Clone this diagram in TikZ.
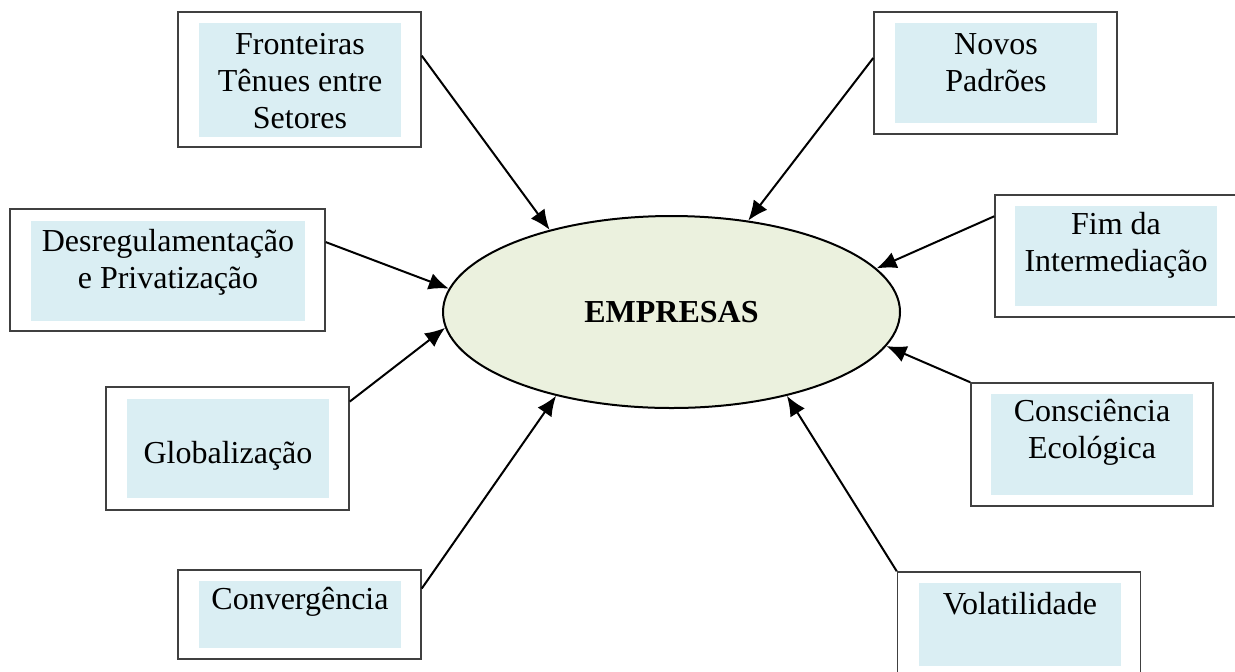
\documentclass[tikz,border=0pt]{standalone}
\usepackage{fontspec}
\setmainfont{Liberation Serif}
\usetikzlibrary{shapes.geometric,arrows.meta}
\definecolor{caixa}{RGB}{218,238,243}
\definecolor{oval}{RGB}{235,241,222}
\definecolor{borda}{RGB}{64,64,64}
\tikzset{
  outer/.style={draw=borda, line width=0.75pt, fill=white, inner sep=0pt},
  rotulo/.style={align=center, inner sep=0pt, font=\fontsize{16}{18.5}\selectfont},
  seta/.style={-{Latex[length=10pt,width=8.5pt]}, line width=1pt}
}

\begin{document}
\begin{tikzpicture}[x=0.5pt,y=-0.5pt]
        \useasboundingbox (0,0) rectangle (1235,671);
        \clip (0,0) rectangle (1235,671);

        % caixas da esquerda
        \node[outer, minimum width=121.5pt, minimum height=67.5pt] (fronteiras) at (299.5,79.5) {};
        \fill[caixa] (199,23) rectangle (401,137);
        \node[rotulo] (tfronteiras) at (300,81) {Fronteiras\\Tênues entre\\Setores};

        \node[outer, minimum width=157.5pt, minimum height=61pt] (desreg) at (167.5,270) {};
        \fill[caixa] (31,221) rectangle (305,321);
        \node[rotulo] (tdesreg) at (168,262) {Desregulamentação\\e Privatização};

        \node[outer, minimum width=121.5pt, minimum height=61.5pt] (global) at (227.5,448.5) {};
        \fill[caixa] (127,399) rectangle (329,498);
        \node[rotulo] (tglobal) at (228,456) {Globalização};

        \node[outer, minimum width=121.5pt, minimum height=44.5pt] (converg) at (299.5,614.5) {};
        \fill[caixa] (199,581) rectangle (401,648);
        \node[rotulo] (tconverg) at (300,602) {Convergência};

        % caixas da direita
        \node[outer, minimum width=121.5pt, minimum height=61pt] (novos) at (995.5,73) {};
        \fill[caixa] (895,23) rectangle (1097,123);
        \node[rotulo] (tnovos) at (996,62.5) {Novos\\Padrões};

        \node[outer, minimum width=121.5pt, minimum height=61pt] (fim) at (1116.5,256) {};
        \fill[caixa] (1015,206) rectangle (1217,306);
        \node[rotulo] (tfim) at (1116,245) {Fim da\\Intermediação};

        \node[outer, minimum width=121pt, minimum height=61.5pt] (consc) at (1092,444.5) {};
        \fill[caixa] (991,394) rectangle (1193,495);
        \node[rotulo] (tconsc) at (1092,432) {Consciência\\Ecológica};

        \node[outer, minimum width=121.5pt, minimum height=52.5pt] (volat) at (1019,624.5) {};
        \fill[caixa] (919,583) rectangle (1121,666);
        \node[rotulo] (tvolat) at (1020,604) {Volatilidade};

        % centro
        \node[ellipse, draw, line width=1pt, fill=oval, inner sep=0pt,
              minimum width=228.5pt, minimum height=96pt,
              font=\fontsize{16}{18.5}\selectfont\bfseries] (empresas) at (671.5,312) {EMPRESAS};

        \draw[seta] (fronteiras.11.9) -- (empresas.146.4);
        \draw[seta] (novos.173.5) -- (empresas.50.8);
        \draw[seta] (desreg.10.8) -- (empresas.174.5);
        \draw[seta] (fim.162.2) -- (empresas.12.9);
        \draw[seta] (global.21.9) -- (empresas.184.5);
        \draw[seta] (consc.north west) -- (empresas.351.2);
        \draw[seta] (converg.12.3) -- (empresas.216.3);
        \draw[seta] (volat.north west) -- (empresas.324.1);

    \end{tikzpicture}
\end{document}
